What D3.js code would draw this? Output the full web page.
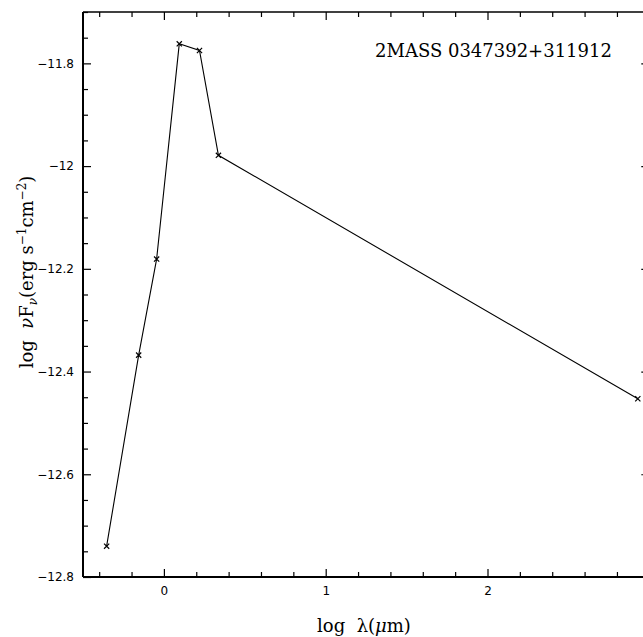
<!DOCTYPE html>
<html><head><meta charset="utf-8">
<script src="https://cdn.jsdelivr.net/npm/d3@7"></script>
<style>
body{margin:0;background:#fff;}
svg{display:block;}
text{white-space:pre;}
</style></head>
<body>
<svg id="chart" width="643" height="637"></svg>
<script>
// Data (log wavelength in micron, log nuF_nu)
const logLambda = [-0.354, -0.156, -0.045, 0.095, 0.220, 0.337, 2.929];
const logNuFnu  = [-12.740, -12.368, -12.181, -11.762, -11.775, -11.979, -12.453];
const xMajorTicks = [0, 1, 2, 3];
const yMajorTicks = [-11.8, -12, -12.2, -12.4, -12.6, -12.8];
const title = "2MASS 0347392+311912";

const svg = d3.select("#chart");
const L = 83, R = 649.3, T = 12, B = 577;
const x = d3.scaleLinear().domain([-0.5, 3]).range([L, R]);
const y = d3.scaleLinear().domain([-12.8, -11.7]).range([B, T]);

const xMinor = d3.range(-0.4, 3.001, 0.2).filter(v => Math.abs(v - Math.round(v)) > 1e-6);
const yMinor = d3.range(-12.8, -11.7, 0.05).filter(v => Math.abs(v*5 - Math.round(v*5)) > 1e-6);

const fmtY = v => d3.format("")(+v.toFixed(2));
const fmtX = v => (v===3 ? "" : d3.format("")(v));

function styleAxis(g){
  g.select(".domain").remove();
  g.selectAll(".tick line").attr("stroke","#000").attr("stroke-width",1.2);
  g.selectAll(".tick text").attr("font-family","DejaVu Sans, sans-serif").attr("font-size",12).attr("fill","#000");
}

// Bottom axis
svg.append("g").attr("transform",`translate(0,${B})`)
  .call(d3.axisBottom(x).tickValues(xMajorTicks).tickSize(-8).tickPadding(9).tickFormat(fmtX)).call(styleAxis);
svg.append("g").attr("transform",`translate(0,${B})`)
  .call(d3.axisBottom(x).tickValues(xMinor).tickSize(-5).tickFormat("")).call(styleAxis);
// Top axis
svg.append("g").attr("transform",`translate(0,${T})`)
  .call(d3.axisTop(x).tickValues(xMajorTicks).tickSize(-8).tickFormat("")).call(styleAxis);
svg.append("g").attr("transform",`translate(0,${T})`)
  .call(d3.axisTop(x).tickValues(xMinor).tickSize(-5).tickFormat("")).call(styleAxis);
// Left axis
svg.append("g").attr("transform",`translate(${L},0)`)
  .call(d3.axisLeft(y).tickValues(yMajorTicks).tickSize(-8).tickPadding(9).tickFormat(fmtY)).call(styleAxis);
svg.append("g").attr("transform",`translate(${L},0)`)
  .call(d3.axisLeft(y).tickValues(yMinor).tickSize(-5).tickFormat("")).call(styleAxis);
// Right axis
svg.append("g").attr("transform",`translate(${R},0)`)
  .call(d3.axisRight(y).tickValues(yMajorTicks).tickSize(-8).tickFormat("")).call(styleAxis);
svg.append("g").attr("transform",`translate(${R},0)`)
  .call(d3.axisRight(y).tickValues(yMinor).tickSize(-5).tickFormat("")).call(styleAxis);

// Frame
svg.append("line").attr("x1",L).attr("x2",R+2).attr("y1",B).attr("y2",B).attr("stroke","#000").attr("stroke-width",2.2);
svg.append("line").attr("x1",L).attr("x2",L).attr("y1",T).attr("y2",B).attr("stroke","#000").attr("stroke-width",2);
svg.append("line").attr("x1",L).attr("x2",R).attr("y1",T).attr("y2",T).attr("stroke","#000").attr("stroke-width",1.6);
svg.append("line").attr("x1",R).attr("x2",R).attr("y1",T).attr("y2",B).attr("stroke","#000").attr("stroke-width",2);

// Line
const pts = logLambda.map((v,i)=>[v, logNuFnu[i]]);
svg.append("path").datum(pts)
  .attr("d", d3.line().x(d=>x(d[0])).y(d=>y(d[1])))
  .attr("fill","none").attr("stroke","#000").attr("stroke-width",1.1);
// Markers (x crosses)
const s = 2.6;
svg.append("g").selectAll("path").data(pts).join("path")
  .attr("d", d => { const cx=x(d[0]), cy=y(d[1]);
    return `M${cx-s},${cy-s}L${cx+s},${cy+s}M${cx-s},${cy+s}L${cx+s},${cy-s}`; })
  .attr("stroke","#000").attr("stroke-width",1.2).attr("fill","none");

// Title
svg.append("text").attr("x",375).attr("y",57).attr("font-family","DejaVu Serif, serif")
  .attr("font-size",18).attr("fill","#000").text(title);

// X label
const xl = svg.append("text").attr("x",364).attr("y",632).attr("text-anchor","middle")
  .attr("font-family","DejaVu Serif, serif").attr("font-size",18).attr("fill","#000");
xl.append("tspan").text("log  λ(");
xl.append("tspan").attr("font-style","italic").text("μ");
xl.append("tspan").text("m)");

// Y label
const yl = svg.append("text").attr("transform","translate(33,272) rotate(-90)").attr("text-anchor","middle")
  .attr("font-family","DejaVu Serif, serif").attr("font-size",18).attr("fill","#000");
yl.append("tspan").text("log  ");
yl.append("tspan").attr("font-style","italic").text("ν");
yl.append("tspan").text("F");
yl.append("tspan").attr("font-style","italic").attr("font-size",12).attr("dy",4).text("ν");
yl.append("tspan").attr("dy",-4).text("(erg s");
yl.append("tspan").attr("font-size",12).attr("dy",-7).text("−1");
yl.append("tspan").attr("dy",7).text("cm");
yl.append("tspan").attr("font-size",12).attr("dy",-7).text("−2");
yl.append("tspan").attr("dy",7).text(")");
</script>
</body></html>
